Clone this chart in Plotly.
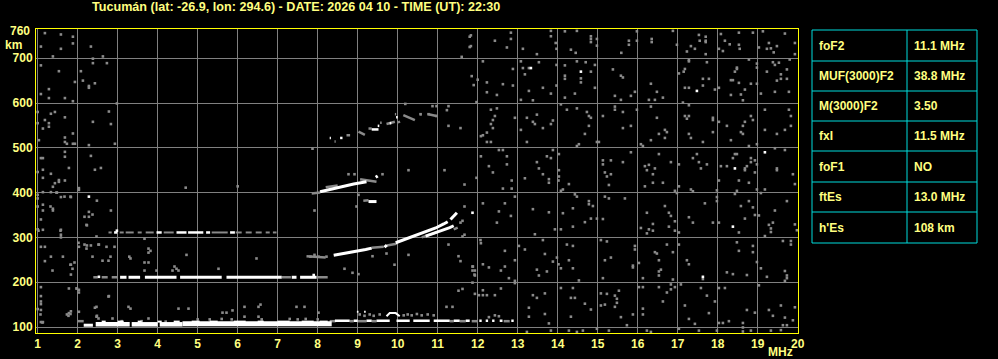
import plotly.graph_objects as go

# ---------------- text / labels ----------------
TITLE = "Tucumán (lat: -26.9, lon: 294.6) - DATE: 2026 04 10 - TIME (UT): 22:30"
x_ticks = list(range(1, 21))
y_ticks = [100, 200, 300, 400, 500, 600, 700]
table_labels = ["foF2", "MUF(3000)F2", "M(3000)F2", "fxI", "foF1", "ftEs", "h'Es"]
table_values = ["11.1 MHz", "38.8 MHz", "3.50", "11.5 MHz", "NO", "13.0 MHz", "108 km"]

# ---------------- traces (frequency MHz, virtual height km) ----------------
# sporadic-E first hop
es1_start = [(2.15, 2.38)]
es1_start_h = 104
es1_mid = [(2.45, 3.3), (3.35, 4.0), (4.05, 4.62)]
es1_mid_h = 106
es1_thick = [(4.62, 8.35)]
es1_thick_h = 107
es1_top_bits = [(2.6, 2.7), (3.0, 3.15), (3.5, 3.6), (4.0, 4.1), (4.4, 4.55), (4.85, 5.05), (5.3, 5.5),
                (5.9, 6.2), (6.5, 6.65), (7.0, 7.3), (7.6, 7.9), (8.05, 8.25)]
es1_top_h = 112
es1_dotted = [(8.43, 8.8), (8.9, 9.0), (9.22, 9.35), (9.47, 9.8), (9.97, 10.3), (10.39, 10.8),
              (10.9, 11.3), (11.4, 11.55), (11.7, 11.8), (12.04, 12.1), (12.2, 12.26),
              (12.36, 12.42), (12.55, 12.62), (12.84, 12.9)]
es1_dotted_h = 114
es1_grey = [(2.0, 2.15), (8.3, 8.45), (8.8, 8.9), (9.0, 9.22), (9.35, 9.47), (11.3, 11.4),
            (11.55, 11.7), (11.85, 12.0), (12.65, 12.8)]
es1_grey_h = 113
es1_multi_grey = [(9.05, 128), (9.17, 125), (9.3, 128), (9.4, 125), (9.55, 128), (10.15, 126),
                  (10.25, 128), (10.35, 126), (10.48, 129), (10.6, 126), (10.75, 128), (10.9, 126),
                  (5.0, 117), (5.3, 117), (5.6, 118), (5.85, 117), (7.3, 118), (7.5, 117),
                  (7.7, 118), (8.0, 117), (6.6, 117), (3.1, 113), (3.6, 113), (4.2, 112)]
es1_multi_white = [[(9.72, 124), (9.8, 131), (9.95, 131), (10.05, 124)],
                   [(8.98, 134), (9.02, 134)], [(9.16, 134), (9.2, 134)]]

# sporadic-E second hop
es2_white = [(3.06, 3.22), (3.27, 3.56), (3.68, 4.47), (4.56, 5.6), (5.72, 7.1), (7.35, 7.47), (7.56, 7.97)]
es2_grey = [(2.39, 2.5), (2.6, 2.75), (2.85, 3.0), (7.1, 7.33), (7.97, 8.25)]
es2_h = 211

# sporadic-E third hop
es3_white = [(2.91, 2.99), (3.97, 4.1), (4.47, 4.72), (4.76, 5.14), (5.21, 5.31), (5.81, 5.93)]
es3_grey = [(2.77, 2.85), (3.05, 3.15), (3.2, 3.4), (3.5, 3.6), (3.7, 3.9), (4.15, 4.4),
            (5.35, 5.75), (5.95, 6.1), (6.2, 6.35), (6.45, 6.6), (6.7, 6.8), (6.88, 6.97)]
es3_h = 311

# F layer first hop
f1_white = [[(8.40, 260), (8.6, 263), (8.8, 266), (9.0, 270), (9.2, 273), (9.35, 276)],
            [(9.67, 278), (9.73, 283)],
            [(9.95, 288), (10.1, 293), (10.3, 299), (10.5, 305), (10.75, 313), (10.95, 321),
             (11.15, 330), (11.25, 335)],
            [(11.32, 340), (11.4, 347), (11.48, 355)],
            [(10.7, 303), (10.9, 309), (11.1, 315), (11.3, 322), (11.4, 326)]]
f1_grey = [[(7.72, 258), (8.2, 255)], [(9.35, 277), (9.65, 279)], [(9.73, 282), (9.97, 286)],
           [(10.6, 300), (11.0, 312)], [(11.4, 318), (11.5, 322)]]
# F layer second hop
f2_white = [[(8.06, 402), (8.3, 407), (8.6, 413), (8.9, 419), (9.22, 424)],
            [(9.45, 434), (9.5, 437)], [(9.27, 380), (9.47, 380)]]
f2_grey = [[(7.85, 398), (8.06, 400)], [(9.06, 430), (9.47, 424)], [(9.14, 382), (9.27, 383)],
           [(8.2, 412), (8.5, 416)]]
# F layer third hop
f3_white = [[(8.3, 522), (8.33, 522)], [(8.56, 522), (8.62, 522)], [(9.35, 541), (9.52, 541)],
            [(9.5, 549), (9.54, 549)], [(9.8, 555), (9.84, 555)], [(9.96, 568), (10.0, 568)]]
f3_grey = [[(8.42, 514), (8.45, 514)], [(8.72, 528), (8.81, 528)], [(9.02, 536), (9.18, 529)],
           [(9.27, 543), (9.35, 543)], [(9.56, 556), (9.6, 556)], [(9.72, 553), (9.93, 558)],
           [(9.93, 575), (9.96, 575)], [(10.02, 560), (10.04, 555)], [(10.14, 573), (10.43, 562)],
           [(10.56, 575), (10.6, 575)], [(10.77, 575), (10.97, 571)]]

# ---------------- background echoes / noise ----------------
noise_left = [(1.18, 756), (1.58, 753), (1.88, 748), (1.88, 733), (1.08, 726), (1.58, 721), (1.38, 704),
    (2.33, 726), (2.38, 699), (2.38, 689), (2.63, 704), (2.73, 689), (1.08, 684), (1.53, 671), (2.08, 671),
    (2.13, 650), (1.93, 647), (2.28, 638), (2.28, 634), (2.43, 644), (1.28, 631), (1.08, 620), (1.28, 611),
    (1.68, 611), (1.88, 604), (2.78, 581), (2.98, 599), (1.0, 580), (1.33, 576), (1.43, 580), (1.18, 562),
    (1.28, 555), (1.28, 547), (1.13, 543), (1.68, 568), (1.88, 532), (2.38, 558), (2.83, 553), (1.0, 555),
    (1.03, 517), (1.68, 523), (1.68, 513), (1.73, 509), (1.88, 509), (1.93, 509), (2.28, 506), (2.93, 509),
    (1.08, 477), (1.13, 477), (1.68, 491), (1.68, 480), (2.33, 482), (2.58, 455), (2.43, 451), (1.78, 455),
    (1.33, 442), (1.13, 451), (1.0, 446), (1.13, 433), (1.53, 428), (1.53, 424), (1.68, 427), (1.43, 421),
    (1.38, 413), (1.13, 401), (1.33, 401), (1.48, 400), (1.58, 390), (1.83, 390), (2.03, 410), (2.03, 406),
    (1.13, 373), (1.13, 360), (1.38, 364), (1.38, 360), (1.08, 340), (1.13, 317), (1.58, 317), (1.58, 306),
    (1.58, 300), (2.48, 382), (2.28, 357), (2.28, 346), (2.23, 327), (2.83, 360), (1.08, 279), (1.18, 279),
    (1.33, 257), (1.63, 257), (1.18, 247), (1.83, 239), (1.83, 217), (2.03, 279), (2.23, 282), (2.33, 282),
    (2.53, 284), (1.98, 186), (2.03, 183), (2.03, 177), (1.78, 186), (1.08, 189), (1.08, 169), (1.08, 151),
    (1.0, 140), (1.08, 111), (1.13, 111), (1.73, 128), (1.78, 131), (1.83, 135), (2.78, 169), (2.48, 125),
    (2.43, 143), (2.03, 134), (1.0, 395), (1.0, 387), (1.0, 369), (1.0, 318), (1.47, 400), (1.67, 391),
    (1.82, 391), (1.32, 369), (2.17, 346), (2.37, 351), (2.22, 328), (1.57, 315), (1.02, 315), (2.47, 302),
    (2.02, 288), (2.17, 284), (2.22, 275), (2.52, 284), (2.72, 279), (2.92, 279), (2.37, 257), (2.82, 257),
    (2.62, 248), (2.77, 248), (1.92, 244), (1.82, 239), (1.87, 230), (1.37, 226), (1.97, 186), (2.77, 168),
    (2.47, 123), (2.52, 119), (1.07, 128), (1.12, 110), (1.08, 157), (1.08, 138), (2.47, 145), (1.77, 125),
    (1.82, 129), (2.87, 119)]

noise_mid = [(3.67, 297), (3.29, 257), (3.32, 253), (3.77, 275), (3.82, 270), (3.77, 266), (3.67, 244),
    (3.77, 244), (3.67, 226), (4.72, 261), (6.47, 253), (4.42, 235), (4.47, 230), (4.52, 226), (4.37, 226),
    (3.97, 226), (5.52, 230), (7.92, 360), (7.92, 261), (7.82, 257), (8.02, 257), (8.22, 257), (3.27, 145),
    (3.32, 141), (4.52, 141), (4.77, 141), (5.62, 132), (5.72, 132), (5.87, 137), (6.17, 145), (6.52, 145),
    (6.57, 150), (7.47, 145), (7.67, 145), (8.02, 132), (3.77, 119), (6.17, 123), (6.52, 123),
    (10.19, 598), (10.87, 593), (10.97, 593), (11.27, 593), (11.23, 584), (11.97, 602), (11.27, 549),
    (11.57, 544), (7.87, 498), (11.17, 450), (10.27, 450), (8.77, 441), (8.92, 441), (9.62, 441),
    (11.67, 418), (11.97, 433), (9.02, 395), (8.97, 369), (11.67, 369), (11.57, 333), (11.62, 337),
    (11.67, 306), (11.62, 302), (8.67, 230), (8.87, 221), (9.02, 218), (9.37, 258), (9.72, 264),
    (10.27, 261), (9.92, 239), (11.27, 284), (11.52, 258), (11.57, 247), (11.87, 235), (11.87, 226),
    (11.92, 217), (11.87, 199), (11.52, 181), (11.62, 185), (11.22, 145), (11.37, 145), (11.6, 703),
    (11.8, 748), (11.8, 725), (4.7, 411), (6.0, 414), (11.85, 660), (11.9, 640), (10.57, 575),
    (10.77, 575), (10.97, 571)]

noise_right_upper = [(11.83, 751), (11.83, 727), (12.43, 739), (12.83, 757), (12.83, 743), (12.73, 724),
    (13.13, 721), (13.48, 709), (13.83, 761), (13.83, 749), (13.95, 734), (13.97, 721), (14.18, 760),
    (14.33, 719), (14.45, 712), (14.48, 761), (14.83, 749), (14.83, 743), (14.83, 736), (14.98, 743),
    (14.98, 728), (15.59, 712), (15.78, 739), (15.78, 730), (15.98, 760), (15.98, 739), (16.35, 743),
    (16.35, 736), (16.88, 761), (16.98, 730), (17.23, 715), (17.33, 727), (17.43, 721), (17.53, 752),
    (17.55, 739), (17.70, 748), (17.70, 739), (17.70, 736), (17.70, 709), (18.03, 721), (18.08, 754),
    (18.13, 716), (18.18, 739), (18.30, 731), (18.53, 757), (18.53, 730), (18.55, 721), (18.88, 757),
    (19.03, 724), (19.13, 760), (19.28, 734), (19.33, 722), (19.23, 721), (19.40, 713), (19.68, 755),
    (19.48, 727), (19.93, 734), (19.93, 709),
    (12.13, 693), (12.0, 652), (12.23, 646), (12.23, 624), (12.63, 642), (12.48, 618), (12.88, 676),
    (12.88, 639), (13.08, 693), (13.13, 678), (13.18, 664), (13.28, 678), (13.53, 691), (13.28, 627),
    (13.38, 606), (13.08, 607), (13.63, 634), (13.83, 621), (13.97, 685), (13.97, 639), (14.18, 684),
    (14.18, 654), (14.18, 661), (14.48, 693), (14.58, 655), (14.58, 646), (14.70, 691), (14.83, 670),
    (14.93, 685), (14.93, 634), (14.43, 621), (14.18, 612), (15.38, 675), (15.58, 661), (15.63, 657),
    (15.43, 616), (15.58, 607), (15.83, 616), (15.93, 625), (16.33, 643), (16.28, 607), (16.43, 607),
    (16.48, 625), (16.63, 612), (17.03, 666), (17.15, 670), (17.28, 693), (17.18, 676), (17.28, 696),
    (17.73, 691), (17.63, 654), (17.78, 654), (17.18, 634), (17.28, 634), (17.63, 639), (17.93, 630),
    (18.03, 634), (18.33, 651), (18.38, 651), (18.43, 670), (18.53, 645), (18.48, 676), (18.68, 630),
    (18.78, 697), (18.83, 643), (18.98, 679), (18.98, 688), (18.63, 606), (18.58, 619), (18.48, 679),
    (19.23, 670), (19.38, 691), (19.43, 685), (19.53, 690), (19.58, 664), (19.58, 654), (19.48, 650),
    (19.73, 675), (19.73, 654), (18.98, 643), (19.08, 621), (19.43, 625), (19.78, 625), (19.80, 697),
    (18.33, 618),
    (12.48, 588), (12.33, 585), (12.43, 571), (12.38, 562), (12.33, 553), (12.38, 544), (12.23, 534),
    (12.13, 528), (12.08, 526), (12.23, 513), (12.33, 513), (12.93, 567), (13.08, 540), (13.23, 513),
    (13.23, 567), (13.38, 558), (13.48, 574), (13.43, 553), (13.83, 553), (13.88, 561), (13.63, 544),
    (14.08, 597), (14.23, 585), (14.48, 588), (14.73, 580), (14.78, 571), (14.83, 567), (14.78, 549),
    (14.68, 531), (14.98, 513), (15.03, 513), (14.53, 508), (14.48, 504), (15.13, 571), (15.43, 592),
    (15.43, 585), (15.63, 580), (15.63, 544), (15.83, 549), (15.98, 585), (16.33, 592), (16.48, 567),
    (16.33, 517), (16.68, 540), (16.73, 535), (16.68, 522), (16.53, 531), (16.08, 508), (16.13, 504),
    (17.18, 571), (17.28, 571), (17.23, 565), (17.28, 531), (17.33, 522), (17.63, 513), (17.88, 567),
    (17.88, 562), (18.03, 558), (17.88, 535), (18.23, 549), (18.33, 517), (18.58, 535), (18.63, 531),
    (18.83, 571), (18.88, 562), (18.68, 558), (18.63, 549), (18.78, 504), (18.98, 508), (19.18, 585),
    (19.18, 540), (19.48, 531), (19.78, 585), (19.83, 571), (19.83, 549), (19.68, 540), (17.28, 595),
    (17.13, 601),
    (12.08, 481), (12.28, 459), (12.38, 445), (12.53, 495), (12.63, 495), (12.73, 481), (12.73, 463),
    (13.18, 432), (13.48, 468), (13.53, 454), (13.63, 441), (13.73, 481), (13.83, 477), (13.88, 495),
    (14.03, 486), (14.03, 450), (14.03, 436), (15.13, 472), (15.13, 463), (15.18, 445), (15.33, 472),
    (15.33, 441), (15.23, 436), (15.63, 468), (15.83, 490), (16.18, 459), (16.28, 462), (16.23, 450),
    (16.38, 441), (16.43, 454), (16.53, 486), (16.83, 468), (17.03, 463), (17.38, 477), (17.48, 486),
    (17.53, 468), (17.58, 454), (17.73, 463), (18.08, 459), (18.23, 459), (18.38, 477), (18.43, 486),
    (18.48, 486), (18.68, 454), (18.73, 459), (18.68, 450), (18.83, 477), (18.83, 468), (18.93, 472),
    (18.93, 445), (18.98, 463), (19.43, 499), (19.68, 495), (19.48, 454), (19.48, 450), (19.88, 441)]

noise_right_lower = [(12.85, 427), (12.85, 409), (12.63, 409), (13.78, 430), (13.78, 422), (14.02, 427),
    (14.08, 404), (14.13, 407), (14.28, 419), (15.28, 417), (16.18, 414), (16.38, 422), (16.63, 422),
    (17.03, 414), (16.93, 404), (17.33, 407), (17.38, 403), (18.03, 427), (17.98, 405), (18.53, 427),
    (18.78, 422), (18.98, 407), (19.08, 399), (19.18, 407), (19.93, 419),
    (12.13, 376), (12.68, 376), (12.83, 348), (12.93, 391), (12.48, 333), (12.53, 358), (13.38, 363),
    (13.78, 356), (13.43, 307), (13.93, 318), (14.08, 318), (14.13, 354), (14.38, 365), (14.43, 396),
    (14.48, 391), (14.78, 381), (14.78, 374), (14.88, 370), (14.98, 342), (14.83, 342), (14.68, 334),
    (14.38, 324), (15.13, 341), (15.18, 391), (15.28, 387), (15.68, 387), (16.23, 355), (16.38, 330),
    (16.28, 318), (16.38, 315), (16.08, 321), (16.23, 309), (16.68, 370), (16.78, 355), (16.83, 348),
    (16.93, 336), (16.78, 324), (16.93, 315), (16.98, 399), (17.03, 311), (17.28, 345), (17.38, 333),
    (17.68, 376), (17.88, 333), (18.03, 333), (17.98, 390), (17.98, 381), (18.43, 397), (18.48, 404),
    (18.58, 370), (18.68, 342), (18.78, 381), (18.88, 367), (18.93, 350), (19.03, 349), (19.18, 303),
    (19.28, 328), (19.38, 333), (19.33, 320), (19.33, 312), (19.43, 360), (19.73, 381), (19.93, 329),
    (19.98, 316), (18.53, 311),
    (12.07, 294), (12.08, 287), (12.68, 270), (12.13, 240), (11.88, 235), (11.93, 226), (11.93, 215),
    (12.28, 233), (12.58, 226), (12.68, 235), (12.93, 249), (12.78, 209), (12.93, 203), (13.03, 281),
    (13.18, 273), (13.63, 294), (13.68, 263), (13.48, 228), (13.53, 215), (13.73, 224), (13.88, 246),
    (13.98, 255), (14.02, 240), (14.08, 231), (14.23, 284), (14.28, 249), (14.38, 281), (14.38, 231),
    (14.53, 204), (15.08, 294), (15.23, 291), (15.93, 281), (15.93, 273), (15.18, 249), (15.33, 255),
    (15.88, 237), (15.88, 233), (15.13, 209), (16.03, 243), (16.13, 209), (16.43, 267), (16.48, 264),
    (16.53, 249), (16.73, 284), (16.88, 267), (17.03, 284), (16.58, 228), (16.53, 224), (16.53, 215),
    (16.88, 206), (17.23, 249), (17.28, 240), (17.63, 207), (18.23, 222), (18.38, 218), (18.53, 270),
    (18.48, 289), (18.73, 216), (18.88, 281), (18.88, 267), (18.98, 245), (19.08, 231), (19.23, 212),
    (19.68, 225), (19.73, 215), (19.73, 209), (19.83, 284), (19.63, 292), (19.83, 292), (19.68, 203),
    (11.93, 174), (12.13, 182), (12.03, 171), (12.13, 171), (12.23, 171), (12.43, 171), (12.58, 186),
    (12.43, 126), (12.28, 122), (12.53, 124), (12.93, 198), (13.38, 171), (13.28, 143), (13.28, 123),
    (13.48, 165), (13.68, 175), (13.68, 129), (13.78, 108), (14.08, 187), (14.38, 187), (14.33, 165),
    (14.43, 165), (14.68, 152), (14.83, 139), (14.33, 123), (15.08, 175), (15.08, 148), (15.23, 174),
    (15.18, 150), (15.43, 170), (15.48, 163), (15.48, 154), (15.53, 181), (15.43, 145), (15.58, 122),
    (15.73, 104), (15.88, 128), (16.13, 141), (16.13, 128), (16.03, 189), (16.13, 189), (16.53, 189),
    (16.63, 157), (16.83, 195), (16.93, 189), (17.08, 195), (16.83, 184), (16.73, 177), (17.18, 148),
    (17.28, 118), (17.43, 107), (17.58, 187), (17.73, 170), (17.78, 131), (17.93, 157), (18.03, 187),
    (18.18, 187), (18.03, 109), (18.13, 109), (18.28, 113), (18.63, 109), (18.63, 99), (18.73, 138),
    (18.93, 132), (19.03, 193), (19.28, 138), (19.38, 125), (19.58, 148), (19.68, 121), (19.88, 115),
    (19.93, 144), (19.63, 104), (19.73, 104),
    (13.23, 89), (13.83, 92), (14.28, 92), (14.48, 89), (14.63, 92), (14.98, 96), (15.28, 92),
    (16.23, 92), (16.33, 89), (17.03, 96), (17.53, 92), (17.98, 92), (18.63, 90), (18.83, 92),
    (19.33, 92), (19.58, 93)]

bright_dots = [(13.33, 678), (14.58, 670), (17.48, 627), (18.43, 454), (19.18, 490), (18.38, 324),
               (17.63, 212), (2.28, 391), (11.87, 355), (2.98, 315), (2.53, 212), (7.9, 216)]

# ---------------- styling ----------------
BG = "#000000"
GRID = "#808080"
DOT_GREY = "#8a8a8a"
WHITE = "#ffffff"
YELLOW_LINE = "#ffff00"
YELLOW_TEXT = "#ffff80"
CYAN = "#00dcdc"
FONT = "Liberation Sans"

W, H = 998, 359
ML, MR, MT, MB = 36, 200, 29, 26
PW, PH = W - ML - MR, H - MT - MB
X_RANGE = [0.9575, 20.0075]
Y_RANGE = [86.6, 765.2]


def px2paper(x, y):
    return (x - ML) / PW, (H - MB - y) / PH


def seg_xy(segs, h):
    xs, ys = [], []
    for f0, f1 in segs:
        xs += [f0, f1, None]
        ys += [h, h, None]
    return xs, ys


def poly_xy(polys):
    xs, ys = [], []
    for poly in polys:
        for f, h in poly:
            xs.append(f)
            ys.append(h)
        xs.append(None)
        ys.append(None)
    return xs, ys


def pts_xy(pts):
    return [p[0] for p in pts], [p[1] for p in pts]


fig = go.Figure()


def add_line(xs, ys, color, width):
    fig.add_trace(go.Scatter(x=xs, y=ys, mode="lines", line=dict(color=color, width=width),
                             connectgaps=False, hoverinfo="skip", showlegend=False))


def add_dots(xs, ys, color, size):
    fig.add_trace(go.Scatter(x=xs, y=ys, mode="markers",
                             marker=dict(symbol="square", size=size, color=color, line=dict(width=0)),
                             hoverinfo="skip", showlegend=False))


# noise
for grp in (noise_left, noise_mid, noise_right_upper, noise_right_lower):
    add_dots(*pts_xy(grp), DOT_GREY, 2.6)
add_dots(*pts_xy(es1_multi_grey), DOT_GREY, 2.6)

# grey trace parts
add_line(*seg_xy(es1_grey, es1_grey_h), DOT_GREY, 2.5)
add_line(*seg_xy(es2_grey, es2_h), DOT_GREY, 2.5)
add_line(*seg_xy(es3_grey, es3_h), DOT_GREY, 2)
add_line(*poly_xy(f1_grey), DOT_GREY, 2.5)
add_line(*poly_xy(f2_grey), DOT_GREY, 2.5)
add_line(*poly_xy(f3_grey), DOT_GREY, 2.5)

# white trace parts
add_line(*seg_xy(es1_start, es1_start_h), WHITE, 3)
add_line(*seg_xy(es1_mid, es1_mid_h), WHITE, 4.5)
add_line(*seg_xy(es1_thick, es1_thick_h), WHITE, 5)
add_line(*seg_xy(es1_top_bits, es1_top_h), WHITE, 2)
add_line(*seg_xy(es1_dotted, es1_dotted_h), WHITE, 2.5)
add_line(*poly_xy(es1_multi_white), WHITE, 2)
add_line(*seg_xy(es2_white, es2_h), WHITE, 3)
add_line(*seg_xy(es3_white, es3_h), WHITE, 2.5)
add_line(*poly_xy(f1_white), WHITE, 3)
add_line(*poly_xy(f2_white), WHITE, 3)
add_line(*poly_xy(f3_white), WHITE, 2.5)
add_dots(*pts_xy(bright_dots), WHITE, 2.6)

tick_font = dict(family=FONT, size=12, color=YELLOW_TEXT, weight="bold")
fig.update_xaxes(range=X_RANGE, tickmode="array", tickvals=x_ticks, ticktext=[str(t) for t in x_ticks],
                 showgrid=True, gridcolor=GRID, gridwidth=1, zeroline=False, showline=True, mirror=True,
                 linecolor=YELLOW_LINE, linewidth=1, ticks="", tickfont=tick_font, fixedrange=True)
fig.update_yaxes(range=Y_RANGE, tickmode="array", tickvals=y_ticks, ticktext=[str(t) for t in y_ticks],
                 showgrid=True, gridcolor=GRID, gridwidth=1, zeroline=False, showline=True, mirror=True,
                 linecolor=YELLOW_LINE, linewidth=1, ticks="", tickfont=tick_font, fixedrange=True)

annotations = []
tx, ty = px2paper(90, 7)
annotations.append(dict(text=TITLE, xref="paper", yref="paper", x=tx, y=ty, xanchor="left", yanchor="middle",
                        showarrow=False, font=dict(family=FONT, size=12.6, color=YELLOW_TEXT, weight="bold")))
ax760, _ = px2paper(32, 0)
annotations.append(dict(text="760", xref="paper", yref="y", x=ax760, y=760, xanchor="right", yanchor="middle",
                        showarrow=False, font=tick_font))
kx, ky = px2paper(13, 45)
annotations.append(dict(text="km", xref="paper", yref="paper", x=kx, y=ky, xanchor="center", yanchor="middle",
                        showarrow=False, font=tick_font))
mx, my = px2paper(780, 352)
annotations.append(dict(text="MHz", xref="paper", yref="paper", x=mx, y=my, xanchor="center", yanchor="middle",
                        showarrow=False, font=tick_font))

# parameter table
shapes = []
tab_x0, tab_x1, tab_xm = 812, 977, 907
row_edges = [30, 61, 91, 121, 151, 182, 212, 243]
px0, py0 = px2paper(tab_x0, row_edges[0])
px1, py1 = px2paper(tab_x1, row_edges[-1])
shapes.append(dict(type="rect", xref="paper", yref="paper", x0=px0, x1=px1, y0=py1, y1=py0,
                   line=dict(color=CYAN, width=1)))
pxm, _ = px2paper(tab_xm, 0)
shapes.append(dict(type="line", xref="paper", yref="paper", x0=pxm, x1=pxm, y0=py1, y1=py0,
                   line=dict(color=CYAN, width=1)))
for r in row_edges[1:-1]:
    _, pr = px2paper(0, r)
    shapes.append(dict(type="line", xref="paper", yref="paper", x0=px0, x1=px1, y0=pr, y1=pr,
                       line=dict(color=CYAN, width=1)))
tab_font = dict(family=FONT, size=12, color=YELLOW_TEXT, weight="bold")
for i, (lab, val) in enumerate(zip(table_labels, table_values)):
    yc = (row_edges[i] + row_edges[i + 1]) / 2
    lx, ly = px2paper(817, yc)
    vx, _ = px2paper(912, yc)
    annotations.append(dict(text=lab, xref="paper", yref="paper", x=lx, y=ly, xanchor="left", yanchor="middle",
                            showarrow=False, font=tab_font))
    annotations.append(dict(text=val, xref="paper", yref="paper", x=vx, y=ly, xanchor="left", yanchor="middle",
                            showarrow=False, font=tab_font))

fig.update_layout(width=W, height=H, margin=dict(l=ML, r=MR, t=MT, b=MB, pad=0, autoexpand=False),
                  paper_bgcolor=BG, plot_bgcolor=BG, showlegend=False, annotations=annotations, shapes=shapes)

fig.write_html("out.html", config={"displayModeBar": False})
